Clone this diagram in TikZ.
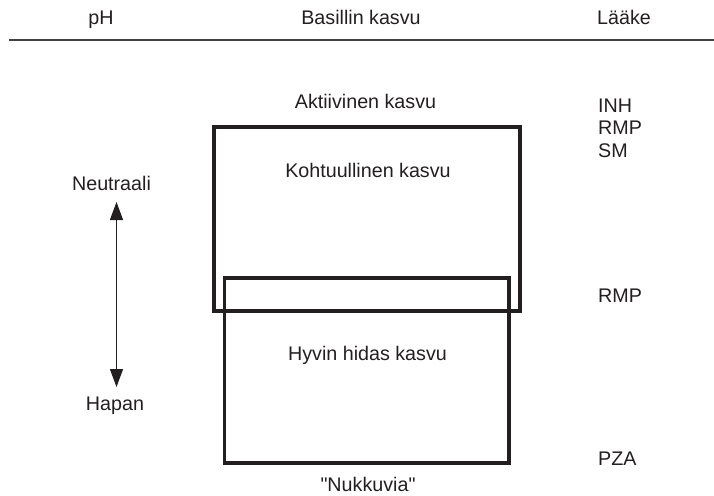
\documentclass[tikz,border=0pt]{standalone}
\usepackage{fontspec}
\setmainfont[Ligatures=TeXOff]{Liberation Sans}
\usetikzlibrary{arrows.meta}
\definecolor{ink}{HTML}{231F20}
\begin{document}
\begin{tikzpicture}[x=1pt,y=-1pt,
  lbl/.style={inner sep=0pt,anchor=base,text=ink,font=\fontsize{19.7}{22.5}\selectfont},
  lbll/.style={lbl,anchor=base west},
  growbox/.style={draw=ink,line width=3.6pt},
  rule/.style={draw=ink!85,line width=1.1pt},
  phaxis/.style={draw=ink,line width=1.3pt,{Triangle[width=13pt,length=18pt]}-{Triangle[width=13pt,length=18pt]}}]
  \useasboundingbox (0,0) rectangle (714,495);

  % column headings and rule
  \node[lbl] (hph) at (101,25) {pH};
  \node[lbl] (hgrowth) at (361,25) {Basillin kasvu};
  \node[lbll] (hdrug) at (597,25) {Lääke};
  \coordinate (ruleL) at (9,40);
  \coordinate (ruleR) at (714,40);
  \draw[rule] (ruleL) -- (ruleR);

  % growth zones
  \draw[growbox] (214,127) rectangle (520,311);
  \draw[growbox] (224.5,278) rectangle (509,463);
  \node[lbl] (active) at (365.5,108) {Aktiivinen kasvu};
  \node[lbl] (moderate) at (368,177) {Kohtuullinen kasvu};
  \node[lbl] (slow) at (367.5,360) {Hyvin hidas kasvu};
  \node[lbl] (dormant) at (368,491) {"Nukkuvia"};

  % pH scale
  \node[lbl] (neutral) at (111.5,190) {Neutraali};
  \node[lbl] (acid) at (115,410) {Hapan};
  \coordinate (phTop) at (116.5,202);
  \coordinate (phBot) at (116.5,387);
  \draw[phaxis] (phBot) -- (phTop);

  % drugs
  \node[lbll] (inh) at (598,112) {INH};
  \node[lbll] (rmpA) at (598,134.5) {RMP};
  \node[lbll] (sm) at (598,157) {SM};
  \node[lbll] (rmpB) at (598,302) {RMP};
  \node[lbll] (pza) at (598,465) {PZA};
\end{tikzpicture}
\end{document}
